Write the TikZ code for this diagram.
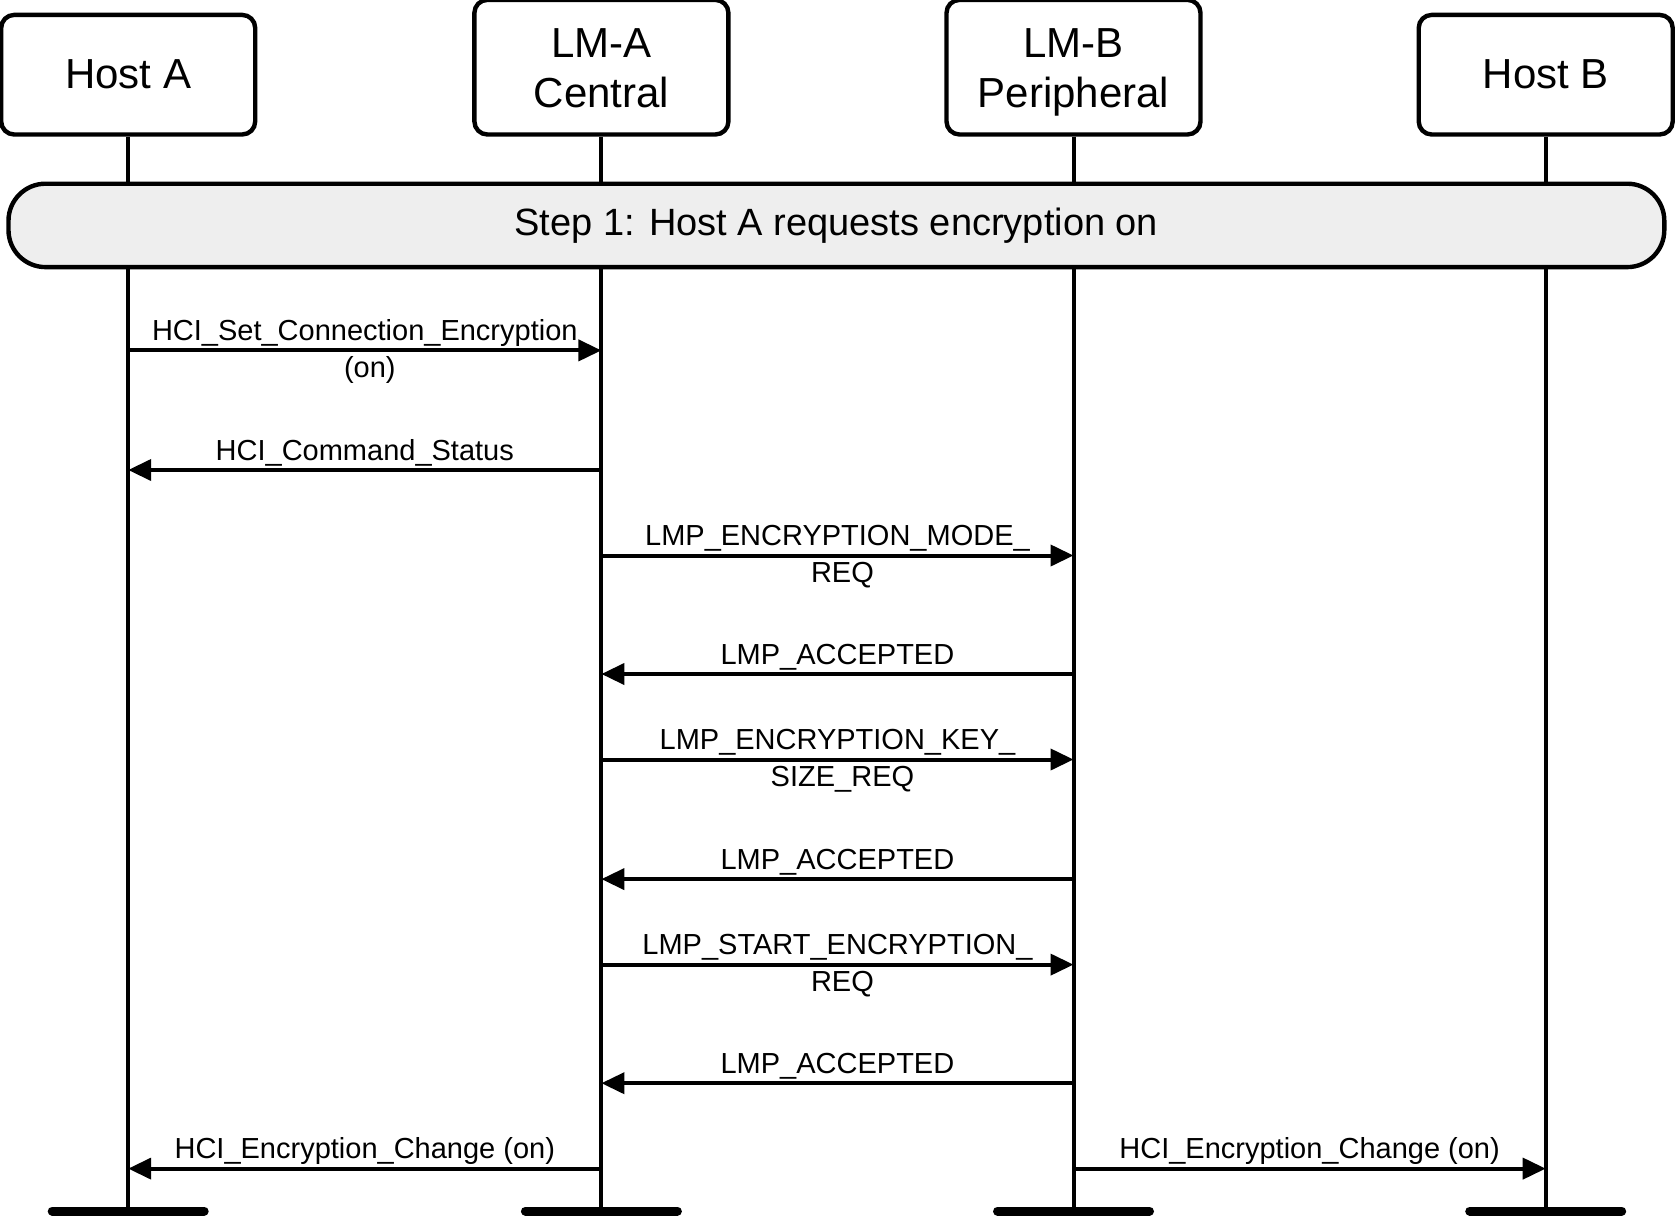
\documentclass[tikz,border=0pt]{standalone}
\usepackage{fontspec}
\setmainfont{Liberation Sans}
\usetikzlibrary{arrows.meta}
\definecolor{bannergray}{RGB}{238,238,238}
\tikzset{
  actor/.style={draw, line width=2.2pt, rounded corners=6.5pt, minimum width=127pt,
    align=center, anchor=south, font=\fontsize{21}{25}\selectfont, inner sep=0pt},
  life/.style={line width=2pt},
  endbar/.style={line width=4.5pt, line cap=round},
  msg/.style={line width=2pt, -{Triangle[length=11.5pt,width=10.5pt]}},
  lblup/.style={anchor=base, yshift=5pt, font=\fontsize{14.5}{17}\selectfont, inner sep=0pt},
  lbldn/.style={anchor=base, yshift=-13.5pt, xshift=2.5pt, font=\fontsize{14.5}{17}\selectfont, inner sep=0pt},
  banner/.style={draw, line width=2.2pt, fill=bannergray, rounded corners=18.5pt,
    minimum width=827.9pt, minimum height=41.7pt, font=\fontsize{19}{23}\selectfont}
}
\begin{document}
\begin{tikzpicture}[x=0.5pt,y=-0.5pt]
\useasboundingbox (0,0) rectangle (1675,1216);
% actors
\node[actor, minimum height=59.8pt] (ha) at (128.2,136.7) {Host A};
\node[actor, minimum height=67.3pt] (lma) at (601.4,136.7) {\rule{0pt}{19.5pt}LM-A\\Central\vphantom{p}};
\node[actor, minimum height=67.3pt] (lmb) at (1073.5,136.7) {\rule{0pt}{19.5pt}LM-B\\Peripheral};
\node[actor, minimum height=59.8pt] (hb) at (1545.7,136.7) {Host B};
% lifeline ends
\coordinate (haE) at (128.2,1211);
\coordinate (lmaE) at (601.4,1211);
\coordinate (lmbE) at (1073.5,1211);
\coordinate (hbE) at (1545.7,1211);
\draw[life] (ha.south) -- (haE);
\draw[life] (lma.south) -- (lmaE);
\draw[life] (lmb.south) -- (lmbE);
\draw[life] (hb.south) -- (hbE);
\draw[endbar] ([xshift=-38pt]haE) -- ([xshift=38pt]haE);
\draw[endbar] ([xshift=-38pt]lmaE) -- ([xshift=38pt]lmaE);
\draw[endbar] ([xshift=-38pt]lmbE) -- ([xshift=38pt]lmbE);
\draw[endbar] ([xshift=-38pt]hbE) -- ([xshift=38pt]hbE);
% banner
\node[banner] (step) at (836.4,225.4) {Step 1:\hspace{0.37em}Host A requests encryption on};
% messages
\draw[msg] (ha.center |- 0,350.4) -- node[lblup] {HCI\_Set\_Connection\_Encryption} node[lbldn] {(on)} (lma.center |- 0,350.4);
\draw[msg] (lma.center |- 0,470) -- node[lblup] {HCI\_Command\_Status} (ha.center |- 0,470);
\draw[msg] (lma.center |- 0,555.5) -- node[lblup] {LMP\_ENCRYPTION\_MODE\_} node[lbldn] {REQ} (lmb.center |- 0,555.5);
\draw[msg] (lmb.center |- 0,674) -- node[lblup] {LMP\_ACCEPTED} (lma.center |- 0,674);
\draw[msg] (lma.center |- 0,759.5) -- node[lblup] {LMP\_ENCRYPTION\_KEY\_} node[lbldn] {SIZE\_REQ} (lmb.center |- 0,759.5);
\draw[msg] (lmb.center |- 0,879.1) -- node[lblup] {LMP\_ACCEPTED} (lma.center |- 0,879.1);
\draw[msg] (lma.center |- 0,964.6) -- node[lblup] {LMP\_START\_ENCRYPTION\_} node[lbldn] {REQ} (lmb.center |- 0,964.6);
\draw[msg] (lmb.center |- 0,1083.2) -- node[lblup] {LMP\_ACCEPTED} (lma.center |- 0,1083.2);
\draw[msg] (lma.center |- 0,1168.6) -- node[lblup] {HCI\_Encryption\_Change (on)} (ha.center |- 0,1168.6);
\draw[msg] (lmb.center |- 0,1168.6) -- node[lblup] {HCI\_Encryption\_Change (on)} (hb.center |- 0,1168.6);
\end{tikzpicture}
\end{document}
